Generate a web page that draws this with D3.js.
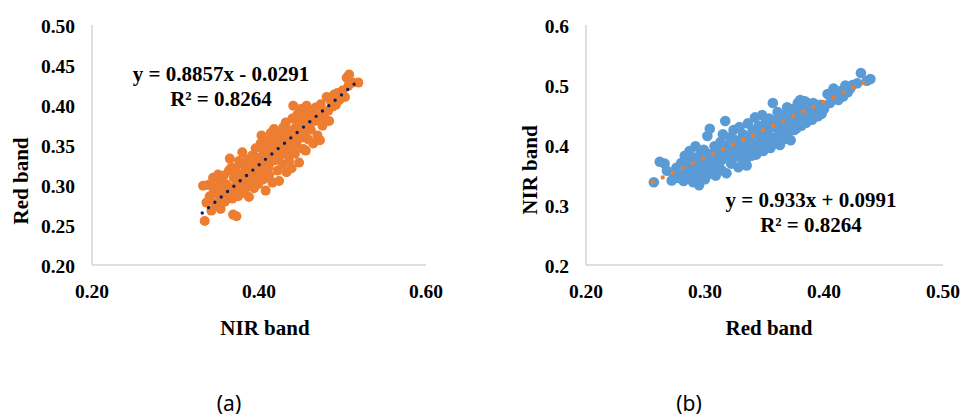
<!DOCTYPE html>
<html>
<head>
<meta charset="utf-8">
<script src="https://cdn.jsdelivr.net/npm/d3@7"></script>
<style>
  html, body { margin: 0; padding: 0; background: #fff; }
  svg { display: block; }
  .tick-label, .axis-title, .eq { font-family: 'Liberation Serif', Tinos, 'Times New Roman', 'DejaVu Serif', serif; font-weight: 700; fill: #000; }
  .tick-label { font-size: 19.5px; }
  .axis-title { font-size: 21px; }
  .eq { font-size: 21px; }
  .panel { font-family: 'Noto Sans', 'DejaVu Sans', sans-serif; font-size: 21px; fill: #000; }
</style>
</head>
<body>
<div id="chart"></div>
<script>
// panel (a): x = NIR band, y = Red band
const pointsA = [
  [0.333, 0.299], [0.335, 0.255], [0.337, 0.278], [0.339, 0.300], [0.341, 0.286], [0.343, 0.268],
  [0.345, 0.309], [0.346, 0.292], [0.348, 0.277], [0.349, 0.300], [0.351, 0.313], [0.352, 0.287],
  [0.354, 0.270], [0.355, 0.302], [0.357, 0.295], [0.358, 0.312], [0.359, 0.279], [0.361, 0.301],
  [0.362, 0.288], [0.364, 0.318], [0.365, 0.333], [0.366, 0.297], [0.368, 0.283], [0.369, 0.263],
  [0.370, 0.309], [0.371, 0.292], [0.372, 0.320], [0.373, 0.261], [0.374, 0.302], [0.375, 0.286],
  [0.377, 0.313], [0.378, 0.298], [0.379, 0.327], [0.380, 0.341], [0.381, 0.290], [0.382, 0.306],
  [0.384, 0.319], [0.385, 0.297], [0.386, 0.332], [0.387, 0.310], [0.388, 0.285], [0.389, 0.323],
  [0.391, 0.300], [0.392, 0.337], [0.393, 0.314], [0.394, 0.296], [0.395, 0.327], [0.396, 0.346],
  [0.397, 0.309], [0.398, 0.320], [0.399, 0.301], [0.400, 0.334], [0.401, 0.315], [0.402, 0.352],
  [0.403, 0.362], [0.404, 0.326], [0.405, 0.307], [0.406, 0.341], [0.407, 0.319], [0.408, 0.293],
  [0.409, 0.333], [0.410, 0.355], [0.411, 0.345], [0.412, 0.312], [0.413, 0.328], [0.414, 0.365],
  [0.415, 0.338], [0.416, 0.303], [0.417, 0.349], [0.418, 0.370], [0.419, 0.331], [0.420, 0.357],
  [0.421, 0.342], [0.422, 0.318], [0.423, 0.352], [0.424, 0.305], [0.425, 0.337], [0.426, 0.363],
  [0.427, 0.347], [0.428, 0.326], [0.429, 0.372], [0.430, 0.355], [0.431, 0.339], [0.432, 0.378],
  [0.433, 0.316], [0.434, 0.361], [0.435, 0.346], [0.436, 0.330], [0.437, 0.368], [0.438, 0.352],
  [0.439, 0.321], [0.440, 0.383], [0.441, 0.399], [0.442, 0.357], [0.443, 0.339], [0.444, 0.372],
  [0.445, 0.350], [0.446, 0.388], [0.447, 0.364], [0.448, 0.328], [0.449, 0.380], [0.450, 0.395],
  [0.451, 0.359], [0.452, 0.372], [0.453, 0.345], [0.454, 0.390], [0.455, 0.366], [0.456, 0.343],
  [0.457, 0.399], [0.458, 0.378], [0.459, 0.357], [0.461, 0.386], [0.462, 0.369], [0.464, 0.392],
  [0.465, 0.352], [0.467, 0.380], [0.468, 0.397], [0.470, 0.362], [0.471, 0.385], [0.473, 0.356],
  [0.474, 0.401], [0.476, 0.374], [0.477, 0.390], [0.479, 0.383], [0.481, 0.410], [0.483, 0.393],
  [0.484, 0.380], [0.486, 0.405], [0.488, 0.398], [0.490, 0.413], [0.492, 0.400], [0.494, 0.415],
  [0.496, 0.406], [0.498, 0.411], [0.500, 0.418], [0.503, 0.410], [0.505, 0.434], [0.507, 0.424],
  [0.508, 0.438], [0.512, 0.428], [0.519, 0.428],
  [0.347, 0.305], [0.356, 0.284], [0.367, 0.322], [0.376, 0.330], [0.383, 0.295], [0.390, 0.330],
  [0.411, 0.322], [0.419, 0.362], [0.437, 0.340], [0.444, 0.384], [0.452, 0.386], [0.460, 0.370]
];

// panel (b): x = Red band, y = NIR band
const pointsB = [
  [0.257, 0.338], [0.262, 0.372], [0.266, 0.369], [0.268, 0.357], [0.272, 0.341], [0.274, 0.350],
  [0.276, 0.362], [0.278, 0.345], [0.280, 0.370], [0.281, 0.355], [0.283, 0.382], [0.284, 0.360],
  [0.285, 0.345], [0.286, 0.372], [0.287, 0.390], [0.288, 0.352], [0.289, 0.366], [0.290, 0.338],
  [0.291, 0.378], [0.292, 0.398], [0.293, 0.360], [0.294, 0.348], [0.295, 0.333], [0.296, 0.385],
  [0.297, 0.370], [0.298, 0.356], [0.299, 0.392], [0.300, 0.343], [0.301, 0.376], [0.302, 0.415],
  [0.303, 0.364], [0.304, 0.427], [0.305, 0.385], [0.306, 0.352], [0.307, 0.371], [0.308, 0.398],
  [0.309, 0.349], [0.310, 0.381], [0.311, 0.392], [0.312, 0.362], [0.313, 0.405], [0.314, 0.375],
  [0.315, 0.418], [0.316, 0.390], [0.317, 0.440], [0.318, 0.353], [0.319, 0.400], [0.320, 0.383],
  [0.321, 0.413], [0.322, 0.369], [0.323, 0.395], [0.324, 0.425], [0.325, 0.380], [0.326, 0.408],
  [0.327, 0.392], [0.328, 0.363], [0.329, 0.430], [0.330, 0.400], [0.331, 0.378], [0.332, 0.418],
  [0.333, 0.389], [0.334, 0.405], [0.335, 0.366], [0.336, 0.436], [0.337, 0.395], [0.338, 0.413],
  [0.339, 0.382], [0.340, 0.424], [0.341, 0.401], [0.342, 0.446], [0.343, 0.384], [0.344, 0.418],
  [0.345, 0.432], [0.346, 0.397], [0.347, 0.410], [0.348, 0.450], [0.349, 0.390], [0.350, 0.425],
  [0.351, 0.438], [0.352, 0.405], [0.353, 0.417], [0.354, 0.444], [0.355, 0.395], [0.356, 0.430],
  [0.357, 0.470], [0.358, 0.412], [0.359, 0.440], [0.360, 0.403], [0.361, 0.455], [0.362, 0.425],
  [0.363, 0.400], [0.364, 0.437], [0.365, 0.418], [0.366, 0.450], [0.367, 0.410], [0.368, 0.433],
  [0.369, 0.463], [0.370, 0.421], [0.371, 0.446], [0.372, 0.408], [0.373, 0.437], [0.374, 0.460],
  [0.375, 0.425], [0.376, 0.452], [0.377, 0.428], [0.378, 0.470], [0.379, 0.441], [0.380, 0.475],
  [0.381, 0.432], [0.382, 0.458], [0.383, 0.446], [0.384, 0.473], [0.385, 0.437], [0.387, 0.462],
  [0.388, 0.450], [0.390, 0.442], [0.391, 0.470], [0.393, 0.455], [0.395, 0.448], [0.397, 0.467],
  [0.398, 0.452], [0.400, 0.460], [0.403, 0.485], [0.405, 0.470], [0.407, 0.479], [0.408, 0.494],
  [0.410, 0.484], [0.412, 0.475], [0.414, 0.490], [0.416, 0.481], [0.418, 0.499], [0.420, 0.488],
  [0.422, 0.494], [0.424, 0.500], [0.428, 0.503], [0.431, 0.520], [0.436, 0.507], [0.439, 0.510],
  [0.282, 0.340], [0.296, 0.350], [0.304, 0.360], [0.314, 0.358], [0.322, 0.380], [0.334, 0.372],
  [0.344, 0.395], [0.356, 0.405], [0.366, 0.428], [0.376, 0.440], [0.392, 0.452], [0.386, 0.470]
];

// linear trendlines: [slope, intercept], and x extent of the dotted line
const trendA = [0.8857, -0.0291];
const trendB = [0.933, 0.0991];
const trendRangeA = [0.332, 0.516];
const trendRangeB = [0.256, 0.434];

const xTicksA = [0.20, 0.40, 0.60];
const yTicksA = [0.20, 0.25, 0.30, 0.35, 0.40, 0.45, 0.50];
const xTicksB = [0.20, 0.30, 0.40, 0.50];
const yTicksB = [0.2, 0.3, 0.4, 0.5, 0.6];

const svg = d3.select("#chart").append("svg")
    .attr("width", 964)
    .attr("height", 418);

function drawPanel(opt) {
    const x = d3.scaleLinear().domain(opt.xDomain).range(opt.xRange);
    const y = d3.scaleLinear().domain(opt.yDomain).range([265, 25]);
    const g = svg.append("g");

    // axes lines (light gray, Excel style)
    g.append("line")
        .attr("x1", opt.xRange[0]).attr("x2", opt.xRange[0])
        .attr("y1", y.range()[1]).attr("y2", y.range()[0])
        .attr("stroke", "#d4d4d4").attr("stroke-width", 1.5);
    g.append("line")
        .attr("x1", opt.xRange[0]).attr("x2", opt.xRange[1])
        .attr("y1", y.range()[0]).attr("y2", y.range()[0])
        .attr("stroke", "#d4d4d4").attr("stroke-width", 1.5);

    // tick labels
    g.selectAll(".yl").data(opt.yTicks).join("text")
        .attr("class", "tick-label")
        .attr("x", opt.yLabelX)
        .attr("y", d => y(d) + 7.5)
        .attr("text-anchor", "end")
        .text(d => d.toFixed(opt.yDigits));

    g.selectAll(".xl").data(opt.xTicks).join("text")
        .attr("class", "tick-label")
        .attr("x", d => x(d))
        .attr("y", 298)
        .attr("text-anchor", "middle")
        .text(d => d.toFixed(2));

    // points
    g.selectAll("circle").data(opt.points).join("circle")
        .attr("cx", d => x(d[0]))
        .attr("cy", d => y(d[1]))
        .attr("r", opt.r)
        .attr("fill", opt.color);

    // dotted trendline
    const tl = opt.trendRange.map(v => [v, opt.trend[0] * v + opt.trend[1]]);
    g.append("path")
        .datum(tl)
        .attr("fill", "none")
        .attr("stroke", opt.trendColor)
        .attr("stroke-width", opt.trendW)
        .attr("stroke-linecap", "round")
        .attr("stroke-dasharray", `0,${opt.trendGap}`)
        .attr("d", d3.line().x(d => x(d[0])).y(d => y(d[1])));

    // equation
    g.append("text").attr("class", "eq")
        .attr("x", opt.eqX).attr("y", opt.eqY)
        .attr("text-anchor", "middle")
        .text(opt.eq);
    g.append("text").attr("class", "eq")
        .attr("x", opt.eqX).attr("y", opt.eqY + 25)
        .attr("text-anchor", "middle")
        .text("R² = 0.8264");

    // axis titles
    g.append("text").attr("class", "axis-title")
        .attr("x", opt.xTitleX).attr("y", 335)
        .attr("text-anchor", "middle")
        .text(opt.xTitle);
    g.append("text").attr("class", "axis-title")
        .attr("transform", `translate(${opt.yTitleX},${opt.yTitleY}) rotate(-90)`)
        .attr("text-anchor", "middle")
        .text(opt.yTitle);

    // panel letter
    g.append("text").attr("class", "panel")
        .attr("x", opt.panelX).attr("y", 411)
        .attr("text-anchor", "middle")
        .text(opt.panel);
}

drawPanel({
    points: pointsA, color: "#ED7D31", r: 5,
    xDomain: [0.2, 0.6], xRange: [92, 426],
    yDomain: [0.2, 0.5],
    xTicks: xTicksA, yTicks: yTicksA, yDigits: 2, yLabelX: 75,
    trend: trendA, trendRange: trendRangeA, trendColor: "#0b1f5c", trendW: 3.4, trendGap: 8.3,
    eq: "y = 0.8857x - 0.0291", eqX: 221, eqY: 81,
    xTitle: "NIR band", xTitleX: 265,
    yTitle: "Red band", yTitleX: 28, yTitleY: 181,
    panel: "(a)", panelX: 229
});

drawPanel({
    points: pointsB, color: "#5B9BD5", r: 5.3,
    xDomain: [0.2, 0.5], xRange: [586, 943],
    yDomain: [0.2, 0.6],
    xTicks: xTicksB, yTicks: yTicksB, yDigits: 1, yLabelX: 569,
    trend: trendB, trendRange: trendRangeB, trendColor: "#ED7D31", trendW: 4.3, trendGap: 11.1,
    eq: "y = 0.933x + 0.0991", eqX: 811, eqY: 207,
    xTitle: "Red band", xTitleX: 769,
    yTitle: "NIR band", yTitleX: 537, yTitleY: 170,
    panel: "(b)", panelX: 689
});
</script>
</body>
</html>
